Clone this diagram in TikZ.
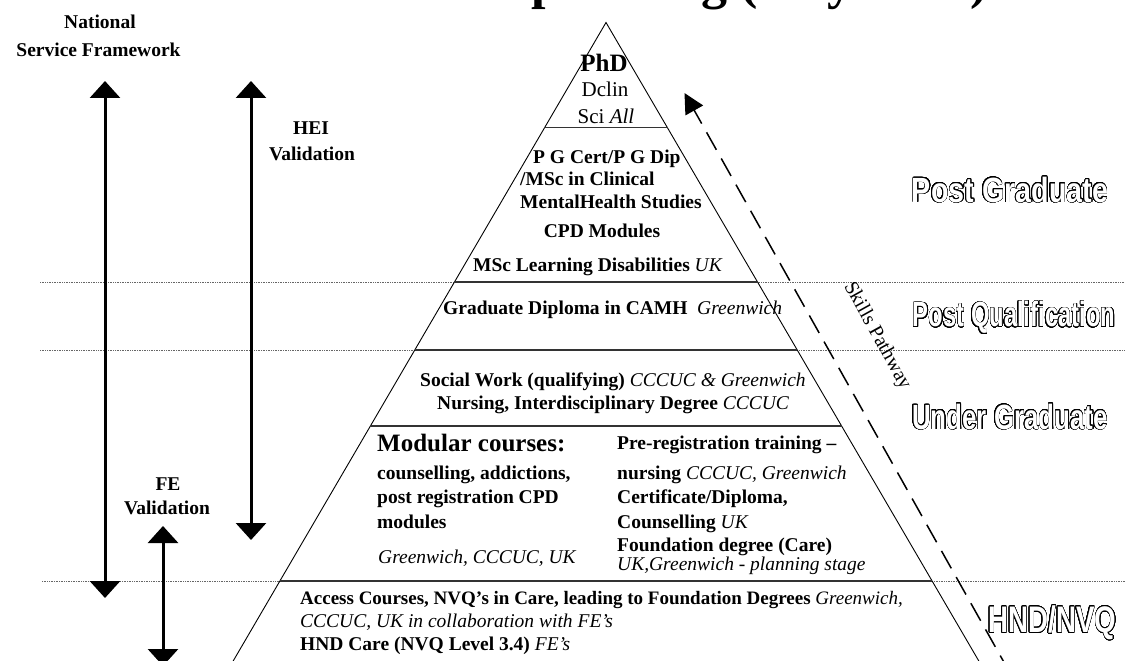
\documentclass[tikz,border=0pt]{standalone}
\usepackage{fontspec}
\setmainfont{Liberation Serif}
\newfontfamily\outlinefont{Liberation Sans}
\usepackage{graphicx}
\usepackage{contour}
\contourlength{0.7pt}
\contournumber{32}
\usetikzlibrary{arrows.meta}
\newcommand\ital[1]{{\mdseries\itshape #1}}
\tikzset{
  lbl/.style={inner sep=0pt, font=\fontsize{19.5}{22}\selectfont\bfseries, text height=13pt, text depth=0pt},
  lblw/.style={lbl, anchor=west},
  big/.style={inner sep=0pt, font=\fontsize{25}{28}\selectfont\bfseries, text height=17pt, text depth=0pt},
  reg/.style={inner sep=0pt, font=\fontsize{21}{24}\selectfont, text height=14pt, text depth=0pt},
  outl/.style={inner sep=0pt, text=white, font=\outlinefont\fontsize{35}{40}\selectfont\bfseries},
  tri/.style={draw=black, line width=0.9pt},
  band/.style={draw=black!80, line width=1.5pt},
  dots/.style={draw=black!60, line width=0.8pt, dash pattern=on 0.8pt off 0.9pt},
  vbar/.style={line width=3pt, {Triangle[length=17pt,width=30pt]}-{Triangle[length=17pt,width=30pt]}},
  skill/.style={line width=1.5pt, dash pattern=on 20pt off 10pt, -{Triangle[length=20pt,width=20pt]}}
}
\begin{document}
\begin{tikzpicture}[x=1pt,y=-1pt]
\path[use as bounding box, fill=white] (0,0) rectangle (1125,661);

% clipped title
\node[anchor=base west, inner sep=0pt, font=\fontsize{52}{60}\selectfont\bfseries] (title) at (531,-1) {planning (July 2005)};

% dotted level lines
\draw[dots] (40,282) -- (454.3,282) (757.7,282) -- (1125,282);
\draw[dots] (40,350) -- (414.6,350) (797.4,350) -- (1125,350);
\draw[dots] (42,581) -- (279.8,581) (932.2,581) -- (1125,581);

% pyramid
\coordinate (apex) at (606,22.5);
\coordinate (bl) at (210.4,700);
\coordinate (br) at (1001.6,700);
\draw[tri] (bl) -- (apex) -- (br);
\draw[band] (544.4,127.5) -- (667.6,127.5);
\draw[band] (454.3,282) -- (757.7,282);
\draw[band] (414.6,350) -- (797.4,350);
\draw[band] (370.3,426) -- (841.7,426);
\draw[band] (279.8,581) -- (932.2,581);

% left arrows
\coordinate (nsfT) at (105,81);
\coordinate (nsfB) at (105,598);
\coordinate (heiT) at (251,81);
\coordinate (heiB) at (251,540);
\coordinate (feT) at (163,526);
\coordinate (feB) at (163,666);
\draw[vbar] (nsfT) -- (nsfB);
\draw[vbar] (heiT) -- (heiB);
\draw[vbar] (feT) -- (feB);

\node[lbl] (nat) at (100,22.5) {National};
\node[lbl] (nsf) at (98.5,50) {Service Framework};
\node[lbl] (hei) at (311,128) {HEI};
\node[lbl] (heiv) at (312,154) {Validation};
\node[lbl] (fe) at (168,484) {FE};
\node[lbl] (fev) at (167,508) {Validation};

% skills pathway
\coordinate (skS) at (1010,673);
\coordinate (skE) at (684.5,93);
\draw[skill] (skS) -- (skE);
\node[inner sep=0pt, font=\fontsize{20}{22}\selectfont, rotate=-61] (skl) at (877,336) {Skills Pathway};

% pyramid texts
\node[big] (phd) at (604,63) {PhD};
\node[reg] (dclin) at (605,89) {Dclin};
\node[reg] (sci) at (606,117) {Sci \textit{All}};
\node[lblw] (pg1) at (533,157) {P G Cert/P G Dip};
\node[lblw] (pg2) at (520,179) {/MSc in Clinical};
\node[lblw] (pg3) at (520,202) {MentalHealth Studies};
\node[lbl] (cpd) at (602,231) {CPD Modules};
\node[lblw] (msc) at (473,265) {MSc Learning Disabilities \ital{UK}};
\node[lblw] (gd) at (443,308) {Graduate Diploma in CAMH\hspace{0.5em}\ital{Greenwich}};
\node[lblw] (sw) at (420,380) {Social Work (qualifying) \ital{CCCUC \& Greenwich}};
\node[lblw] (nu) at (437,403) {Nursing, Interdisciplinary Degree \ital{CCCUC}};

\node[big, anchor=west] (mod) at (377,443) {Modular courses:};
\node[lblw] (m2) at (377,473) {counselling, addictions,};
\node[lblw] (m3) at (377,497) {post registration CPD};
\node[lblw] (m4) at (377,522) {modules};
\node[lblw] (m5) at (378,557) {\ital{Greenwich, CCCUC, UK}};

\node[lblw] (r1) at (617,443) {Pre-registration training –};
\node[lblw] (r2) at (617,473) {nursing \ital{CCCUC, Greenwich}};
\node[lblw] (r3) at (617,497) {Certificate/Diploma,};
\node[lblw] (r4) at (617,522) {Counselling \ital{UK}};
\node[lblw] (r5) at (617,545) {Foundation degree (Care)};
\node[lblw] (r6) at (617,564) {\ital{UK,Greenwich - planning stage}};

\node[lblw, font=\fontsize{19}{22}\selectfont\bfseries] (a1) at (300,598) {Access Courses, NVQ's in Care, leading to Foundation Degrees \ital{Greenwich,}};
\node[lblw] (a2) at (300,621) {\ital{CCCUC, UK in collaboration with FE's}};
\node[lblw] (a3) at (300,644) {HND Care (NVQ Level 3.4) \ital{FE's}};

% outlined level labels
\node[outl] (lpg) at (1010,190) {\scalebox{0.82}[1]{\contour{black}{Post Graduate}}};
\node[outl] (lpq) at (1014,318) {\scalebox{0.68}[1]{\contour{black}{Post Qualification}}};
\node[outl] (lug) at (1010,417) {\scalebox{0.74}[1]{\contour{black}{Under Graduate}}};
\node[outl, anchor=west, font=\outlinefont\fontsize{37}{42}\selectfont\bfseries] (lhnd) at (988,623) {\scalebox{0.75}[1]{\contour{black}{HND/NVQ}}};
\end{tikzpicture}
\end{document}
